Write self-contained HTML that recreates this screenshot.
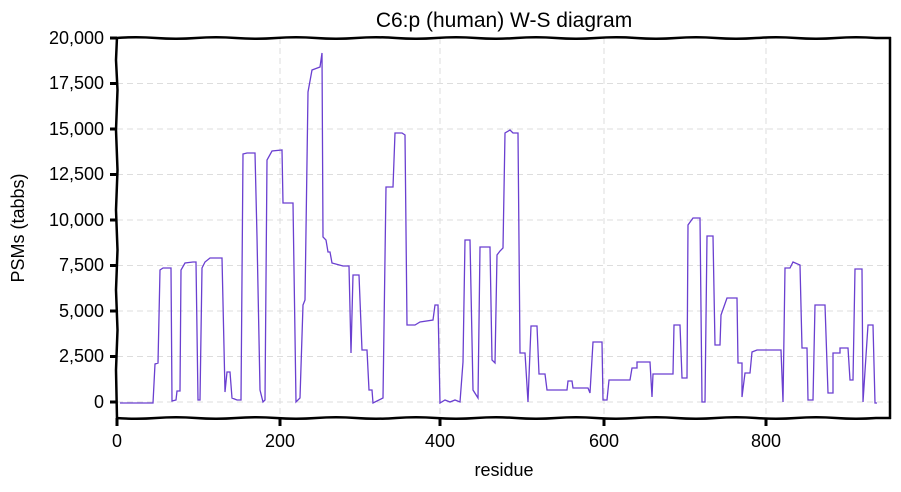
<!DOCTYPE html>
<html><head><style>
html,body{margin:0;padding:0;background:#fff;overflow:hidden;}
svg{display:block;}
svg text{font-family:"Liberation Sans",sans-serif;fill:#000;}
</style></head><body>
<svg width="901" height="492" viewBox="0 0 901 492">
<rect width="901" height="492" fill="#fff"/>
<g stroke="#ddd" stroke-width="1" stroke-dasharray="6,4" fill="none">
<line x1="117" y1="356.5" x2="890" y2="356.5"/><line x1="117" y1="311" x2="890" y2="311"/>
<line x1="117" y1="265.5" x2="890" y2="265.5"/><line x1="117" y1="220" x2="890" y2="220"/>
<line x1="117" y1="174.5" x2="890" y2="174.5"/><line x1="117" y1="129" x2="890" y2="129"/>
<line x1="117" y1="83.5" x2="890" y2="83.5"/><line x1="117" y1="402" x2="890" y2="402"/>
<line x1="280" y1="38" x2="280" y2="418"/><line x1="440" y1="38" x2="440" y2="418"/>
<line x1="604" y1="38" x2="604" y2="418"/><line x1="766" y1="38" x2="766" y2="418"/>
</g>
<polyline fill="none" stroke="#6a3fd0" stroke-width="1.3" points="120,403 153,403 155,364 158,363 160,270 163,268 171,268 172,401 176,400 177,391 180,391 181,270 185,263 193,262 196,262 198,400 200,400 202,268 205,262 210,258 222,258 225,392 227,372 230,372 232,398 237,400 241,400 243,154 247,153 255,153 257,237 260,390 263,402 265,400 267,160 272,151 282,150 283,203 293,203 296,402 300,398 303,305 305,300 308,92 312,70 320,67 322,53 323,237 326,240 328,252 330,252 332,263 343,266 349,266 351,353 353,275 359,275 362,350 367,350 369,390 372,390 373,403 383,398 386,187 393,187 395,133 402,133 405,135 407,325 415,325 420,322 433,320 435,305 438,305 440,403 445,400 450,402 455,400 460,402 463,362 465,240 470,240 473,390 478,398 480,247 490,247 492,360 495,363 497,255 500,251 503,248 505,133 510,130 513,133 518,133 520,353 525,353 528,402 531,326 537,326 539,374 545,374 547,390 567,390 568,381 572,381 573,388 588,388 590,393 593,342 602,342 603,400 607,400 609,380 630,380 632,368 637,368 637,362 650,362 652,397 653,374 673,374 674,325 680,325 682,378 687,378 688,225 693,218 700,218 702,402 705,402 707,236 713,236 715,345 720,345 721,315 727,298 737,298 738,363 742,363 742,397 745,373 750,373 752,352 757,350 781,350 783,402 785,268 790,268 793,262 800,265 802,348 807,348 808,400 813,400 815,305 825,305 828,393 833,393 833,353 840,353 840,348 848,348 850,380 853,380 855,269 862,269 863,402 868,325 873,325 875,403 877,403"/>
<g stroke="#000" stroke-width="2.5" fill="none" stroke-linejoin="round">
<path d="M116,38 q20,-1.5 40,0 t40,0 t40,0 t40,0 t40,0 t40,0 t40,0 t40,0 t40,0 t40,0 t40,0 t40,0 t40,0 t40,0 t40,0 t40,0 t40,0 t40,0 t40,0 L891,38"/>
<path d="M116,418 q20,1.5 40,0 t40,0 t40,0 t40,0 t40,0 t40,0 t40,0 t40,0 t40,0 t40,0 t40,0 t40,0 t40,0 t40,0 t40,0 t40,0 t40,0 t40,0 t40,0 L891,418"/>
<polyline points="117,37 116,60 117.5,90 116,130 117.5,170 116,210 117.5,250 116,290 117.5,330 116,370 117,419"/>
</g>
<line x1="890" y1="37" x2="890" y2="419" stroke="#000" stroke-width="2.5"/>
<g stroke="#000" stroke-width="3">
<line x1="110" y1="402" x2="117" y2="402"/><line x1="110" y1="356.5" x2="117" y2="356.5"/>
<line x1="110" y1="311" x2="117" y2="311"/><line x1="110" y1="265.5" x2="117" y2="265.5"/>
<line x1="110" y1="220" x2="117" y2="220"/><line x1="110" y1="174.5" x2="117" y2="174.5"/>
<line x1="110" y1="129" x2="117" y2="129"/><line x1="110" y1="83.5" x2="117" y2="83.5"/>
<line x1="110" y1="38" x2="117" y2="38"/>
<line x1="117" y1="418" x2="117" y2="426"/><line x1="280" y1="418" x2="280" y2="426"/>
<line x1="440" y1="418" x2="440" y2="426"/><line x1="604" y1="418" x2="604" y2="426"/>
<line x1="766" y1="418" x2="766" y2="426"/>
</g>
<g font-size="18" text-anchor="end">
<text x="104" y="408">0</text><text x="104" y="362">2,500</text><text x="104" y="317">5,000</text>
<text x="104" y="271">7,500</text><text x="104" y="226">10,000</text><text x="104" y="180">12,500</text>
<text x="104" y="135">15,000</text><text x="104" y="89">17,500</text><text x="104" y="44">20,000</text>
</g>
<g font-size="18" text-anchor="middle">
<text x="117" y="447">0</text><text x="280" y="447">200</text><text x="440" y="447">400</text>
<text x="604" y="447">600</text><text x="766" y="447">800</text>
<text x="504" y="476">residue</text>
<text x="504" y="27" font-size="21">C6:p (human) W-S diagram</text>
<text x="0" y="0" transform="translate(24,228) rotate(-90)">PSMs (tabbs)</text>
</g>
</svg>
</body></html>
